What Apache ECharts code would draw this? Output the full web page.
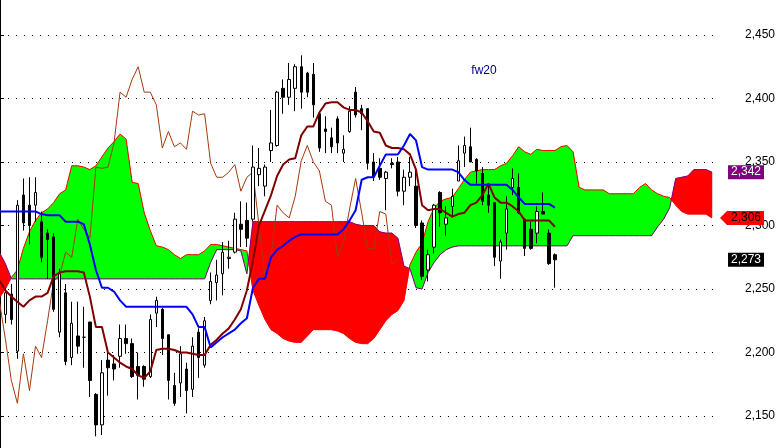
<!DOCTYPE html>
<html><head><meta charset="utf-8">
<script src="https://cdn.jsdelivr.net/npm/echarts@6/dist/echarts.min.js"></script>
<style>html,body{margin:0;padding:0;background:#fff;overflow:hidden}#c{width:780px;height:448px}</style>
</head><body><div id="c"></div>
<script>
// ---- data ----
const opens = [2205,2230,2246,2201,2324,2316,2316,2303,2294,2291,
 2216,2247,2196,2213,2212,2224,2167,2143,2194,2191,
 2197,2211,2207,2189,2189,2181,2231,2234,2214,2174,
 2176,2187,2171,2216,2190,2241,2255,2262,2274,2279,
 2301,2304,2305,2340,2331,2359,2363,2408,2401,2408,
 2425,2420,2419,2388,2376,2369,2384,2357,2374,2405,
 2392,2392,2350,2345,2337,2349,2350,2327,2338,2331,
 2302,2265,2283,2326,2301,2315,2335,2357,2362,2352,
 2341,2324,2318,2272,2294,2330,2330,2305,2297,2294,
 2311,2294,2277];
const highs = [2212,2251,2254,2320,2337,2338,2338,2311,2297,2294,
 2266,2254,2240,2240,2236,2224,2168,2194,2204,2198,
 2222,2222,2211,2200,2190,2230,2244,2235,2214,2184,
 2205,2192,2212,2219,2228,2263,2273,2287,2288,2310,
 2319,2318,2363,2361,2348,2391,2406,2415,2428,2427,
 2434,2421,2428,2390,2386,2377,2386,2371,2394,2409,
 2395,2392,2357,2353,2343,2353,2354,2344,2354,2346,
 2304,2281,2317,2327,2315,2329,2363,2370,2377,2353,
 2346,2333,2318,2289,2323,2345,2341,2305,2303,2315,
 2326,2297,2278];
const lows = [2170,2223,2222,2195,2296,2285,2303,2271,2258,2232,
 2212,2190,2190,2199,2188,2165,2134,2135,2166,2178,
 2188,2199,2180,2163,2173,2180,2220,2198,2163,2158,
 2165,2152,2165,2180,2188,2238,2241,2245,2266,2278,
 2283,2283,2303,2331,2323,2350,2362,2388,2395,2390,
 2392,2401,2385,2358,2357,2357,2357,2350,2373,2385,
 2375,2344,2335,2336,2312,2345,2323,2316,2331,2298,
 2257,2256,2278,2299,2292,2306,2335,2346,2350,2333,
 2316,2310,2268,2258,2281,2324,2309,2276,2281,2286,
 2309,2269,2251];
const closes = [2176,2247,2226,2316,2302,2300,2326,2275,2289,2234,
 2262,2193,2223,2205,2212,2178,2143,2184,2188,2187,
 2211,2207,2181,2182,2179,2226,2241,2211,2178,2160,
 2199,2170,2205,2196,2225,2256,2261,2279,2275,2305,
 2297,2290,2346,2345,2346,2365,2405,2401,2415,2425,
 2405,2405,2395,2361,2374,2362,2365,2360,2390,2387,
 2388,2349,2338,2338,2342,2348,2327,2338,2342,2300,
 2260,2277,2316,2310,2306,2323,2351,2363,2350,2343,
 2319,2316,2275,2287,2313,2337,2310,2282,2282,2311,
 2309,2270,2273];
const tenkan = [2257,2249,2244,2240,2236,2241,2244,2244,2247,2260,
 2263,2264,2264,2264,2263,2244,2220,2220,2200,2196,
 2192,2189,2187,2182,2180,2185,2202,2203,2203,2202,
 2200,2200,2199,2198,2198,2206,2210,2215,2219,2226,
 2234,2249,2272,2300,2312,2324,2339,2348,2352,2353,
 2371,2378,2378,2389,2396,2397,2397,2393,2391,2391,
 2389,2382,2374,2373,2363,2361,2361,2360,2356,2344,
 2316,2312,2313,2313,2310,2307,2309,2310,2316,2318,
 2324,2333,2322,2318,2318,2315,2311,2304,2304,2304,
 2304,2304,2299];
const kijun = [2311,2311,2311,2311,2311,2311,2311,2309,2308,2308,
 2308,2303,2303,2303,2301,2285,2265,2251,2251,2248,
 2241,2236,2236,2236,2236,2236,2236,2236,2236,2236,
 2236,2236,2230,2220,2220,2204,2208,2212,2215,2218,
 2223,2227,2251,2258,2258,2275,2281,2284,2288,2291,
 2293,2293,2293,2293,2293,2293,2293,2297,2304,2312,
 2336,2338,2338,2347,2356,2356,2356,2363,2372,2367,
 2346,2344,2344,2344,2344,2344,2342,2336,2332,2332,
 2332,2332,2332,2332,2332,2328,2322,2317,2317,2317,
 2317,2317,2314];
const spanA = [2243,2250,2259,2265,2282,2295,2304,2310,2313,2318,
 2325,2328,2347,2347,2346,2344,2347,2354,2361,2366,
 2372,2368,2334,2333,2310,2296,2284,2283,2281,2277,
 2274,2277,2277,2277,2280,2285,2285,2284,2283,2282,
 2281,2280,2249,2237,2226,2218,2215,2211,2209,2208,
 2208,2213,2218,2218,2218,2218,2217,2215,2211,2208,
 2207,2207,2211,2218,2225,2230,2233,2241,2269,2279,
 2286,2303,2314,2319,2321,2322,2329,2336,2342,2343,
 2344,2344,2344,2347,2349,2355,2362,2358,2356,2360,
 2359,2359,2359,2362,2363,2358,2330,2328,2328,2328,
 2328,2325,2325,2325,2325,2325,2330,2333,2328,2325,
 2323,2322,2316,2311,2309,2309,2309,2309,2306];
const spanB = [2279,2270,2258,2258,2258,2258,2258,2258,2258,2258,
 2258,2258,2258,2258,2258,2258,2258,2258,2258,2258,
 2258,2258,2258,2258,2258,2258,2258,2258,2258,2258,
 2258,2258,2258,2258,2258,2271,2281,2281,2281,2281,
 2280,2262,2303,2303,2303,2303,2303,2303,2303,2303,
 2303,2303,2303,2303,2303,2303,2303,2303,2303,2301,
 2300,2300,2300,2295,2294,2294,2290,2268,2266,2251,
 2250,2263,2271,2277,2281,2283,2284,2284,2284,2284,
 2284,2284,2284,2284,2284,2284,2284,2284,2284,2284,
 2284,2284,2284,2284,2284,2292,2292,2292,2292,2292,
 2292,2292,2292,2292,2292,2292,2292,2292,2292,2299,
 2305,2314,2337,2338,2339,2344,2344,2344,2342];
const lagging = [2241,2211,2178,2160,2199,2170,2205,2196,2225,2256,
 2261,2279,2275,2305,2297,2290,2346,2345,2346,2365,
 2405,2401,2415,2425,2405,2405,2395,2361,2374,2362,
 2365,2360,2390,2387,2388,2349,2338,2338,2342,2348,
 2327,2338,2342,2300,2260,2277,2316,2310,2306,2323,
 2351,2363,2350,2343,2319,2316,2275,2287,2313,2337,
 2310,2282,2282,2311,2309,2270,2273];
const slotCount = 120;
const yMin = 2100, yMax = 2500, yStep = 50;
const title = 'fw20';

// ---- chart ----
const GREEN = '#00ff00', RED = '#ff0000', PURPLE = '#800080';
const FONT = "'Liberation Sans', Arial, sans-serif";
const fmt = v => String(v).replace(/\B(?=(\d{3})+(?!\d))/g, ',');
const cats = Array.from({length: slotCount}, (_, i) => String(i));
const candles = opens.map((o, i) => [o, closes[i], lows[i], highs[i]]);

const chart = echarts.init(document.getElementById('c'), null, {renderer: 'canvas'});
const lineS = (data, color, width, z) => ({
  type: 'line', data: data, xAxisIndex: 0, yAxisIndex: 0, showSymbol: false, symbol: 'none',
  lineStyle: {color: color, width: width}, itemStyle: {color: color}, z: z, silent: true,
  emphasis: {disabled: true}, animation: false
});

// cloud: one polygon per run where spanA stays on the same side of spanB
function renderCloud(params, api) {
  const polys = [];
  let top = [], bot = [], sign = 0;
  const flush = () => {
    if (top.length > 1) {
      const c = sign >= 0 ? GREEN : RED;
      polys.push({type: 'polygon', shape: {points: top.concat(bot.slice().reverse())},
                  style: {fill: c, stroke: c, lineWidth: 0.5}});
    }
  };
  for (let i = 0; i < spanA.length; i++) {
    const d = spanA[i] - spanB[i];
    const pa = api.coord([i, spanA[i]]), pb = api.coord([i, spanB[i]]);
    if (i === 0) {
      sign = d >= 0 ? 1 : -1;
    } else {
      const dp = spanA[i - 1] - spanB[i - 1];
      if (dp * d < 0) {
        const t = dp / (dp - d);
        const qa = api.coord([i - 1, spanA[i - 1]]);
        const pc = [qa[0] + t * (pa[0] - qa[0]), qa[1] + t * (pa[1] - qa[1])];
        top.push(pc); bot.push(pc);
        flush();
        top = [pc]; bot = [pc];
        sign = d > 0 ? 1 : -1;
      }
    }
    top.push(pa); bot.push(pb);
  }
  flush();
  return {type: 'group', children: polys};
}

chart.setOption({
  animation: false,
  backgroundColor: '#ffffff',
  grid: [
    {left: -3.76, top: -28.5, width: 724.8, height: 508, containLabel: false, outerBoundsMode: 'none'},
    {left: 0, top: -28.5, width: 720, height: 508, containLabel: false, outerBoundsMode: 'none'}
  ],
  xAxis: [
    {type: 'category', gridIndex: 0, data: cats, boundaryGap: true, show: false},
    {type: 'value', gridIndex: 1, min: 0, max: 1, show: false}
  ],
  yAxis: [
    {type: 'value', gridIndex: 0, min: yMin, max: yMax, show: false, splitLine: {show: false}},
    {type: 'value', gridIndex: 1, position: 'right', min: yMin, max: yMax, interval: yStep,
     axisLine: {show: true, lineStyle: {color: '#000', width: 1}},
     axisTick: {show: true, length: 4, lineStyle: {color: '#000', width: 1}},
     axisLabel: {margin: 25, color: '#000', fontSize: 12, fontFamily: FONT, formatter: fmt},
     splitLine: {show: true, lineStyle: {color: '#000', width: 1, type: [1, 7]}}}
  ],
  series: [
    {
      type: 'custom', xAxisIndex: 0, yAxisIndex: 0, data: [[0, spanA[0]]], z: 1, silent: true,
      encode: {x: 0, y: 1}, renderItem: renderCloud
    },
    lineS(spanA, RED, 1, 2),
    lineS(spanB, PURPLE, 1, 2),
    lineS(lagging, '#a33a0e', 1, 3),
    {
      type: 'candlestick', xAxisIndex: 0, yAxisIndex: 0, data: candles, barWidth: 3, z: 4, silent: true,
      itemStyle: {color: '#ffffff', color0: '#000000', borderColor: '#000000', borderColor0: '#000000',
                  borderColorDoji: '#000000', borderWidth: 1},
      emphasis: {disabled: true}
    },
    lineS(tenkan, '#800000', 2, 5),
    lineS(kijun, '#0000ff', 2, 5)
  ]
});

const yOf = v => chart.convertToPixel({yAxisIndex: 1}, v);
const lastB = spanB[spanB.length - 1], lastA = spanA[spanA.length - 1], lastC = closes[closes.length - 1];
const yB = yOf(lastB), yA = yOf(lastA), yC = yOf(lastC);
const tagText = (x, y, s, color) => ({type: 'text', x: x, y: y, z: 100,
  style: {text: s, fill: color, font: '12px ' + FONT, textAlign: 'center', textVerticalAlign: 'middle'}});
chart.setOption({
  graphic: [
    {type: 'rect', shape: {x: 728, y: yB - 7, width: 36, height: 14}, style: {fill: PURPLE}, z: 99},
    tagText(746, yB, fmt(lastB), '#ffffff'),
    {type: 'polygon', shape: {points: [[720, yA], [727, yA - 7], [764, yA - 7], [764, yA + 7], [727, yA + 7]]}, style: {fill: RED}, z: 99},
    tagText(746, yA, fmt(lastA), '#000000'),
    {type: 'rect', shape: {x: 728, y: yC - 7, width: 36, height: 14}, style: {fill: '#000000'}, z: 99},
    tagText(746, yC, fmt(lastC), '#ffffff'),
    {type: 'text', x: 484, y: 71, z: 100, style: {text: title, fill: '#000080', font: '12px ' + FONT, textAlign: 'center', textVerticalAlign: 'middle'}}
  ]
});
</script>
</body></html>
